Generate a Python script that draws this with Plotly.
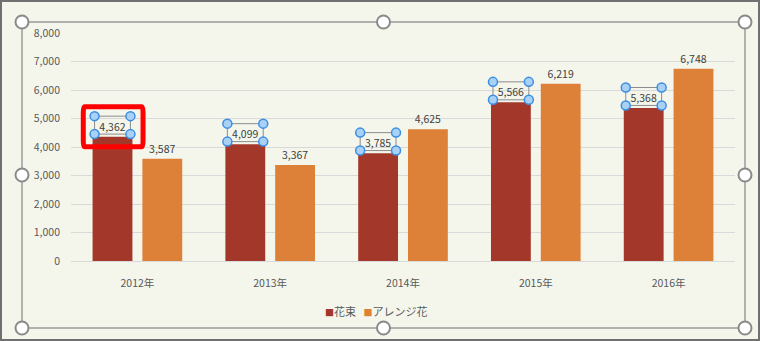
import plotly.graph_objects as go

years = ["2012年", "2013年", "2014年", "2015年", "2016年"]
bouquet = [4362, 4099, 3785, 5566, 5368]
arrange = [3587, 3367, 4625, 6219, 6748]
series_names = ["花束", "アレンジ花"]
series_colors = ["#A3382A", "#DD8038"]
y_ticks = [0, 1000, 2000, 3000, 4000, 5000, 6000, 7000, 8000]

FONT = "Noto Sans CJK JP"
ML, MR, MT, MB = 71, 25, 33, 80
W, H = 760, 341
PW, PH = W - ML - MR, H - MT - MB

def px(x):
    return (x - ML) / PW

def py(y):
    return (H - MB - y) / PH

BARGAP, GROUPGAP = 0.25, 0.2
slot = (1 - BARGAP) / 2
bw = slot * (1 - GROUPGAP)
off0 = -slot / 2

fig = go.Figure()
for name, vals, col in zip(series_names, [bouquet, arrange], series_colors):
    fig.add_bar(x=list(range(len(years))), y=vals, name=name,
                marker=dict(color=col, line=dict(width=0)),
                text=[f"{v:,}" for v in vals], textposition="outside",
                textfont=dict(size=10.5, color="#404040", family=FONT), cliponaxis=False,
                showlegend=False)

shapes = []
# selection boxes around bouquet labels
for i, v in enumerate(bouquet):
    cx = i + off0
    x0, x1 = cx - bw / 2 + 0.015, cx + bw / 2 - 0.015
    y0, y1 = v + 90, v + 720
    shapes.append(dict(type="rect", xref="x", yref="y", x0=x0, x1=x1, y0=y0, y1=y1,
                       line=dict(color="#8C8C8C", width=1), layer="above"))
    for xx in (x0, x1):
        for yy in (y0, y1):
            shapes.append(dict(type="circle", xref="x", yref="y", xsizemode="pixel",
                               ysizemode="pixel", xanchor=xx, yanchor=yy,
                               x0=-4.5, x1=4.5, y0=-4.5, y1=4.5,
                               fillcolor="#A9D1F5", line=dict(color="#3B8EE3", width=1.5),
                               layer="above"))

# red highlight around first label
cx = 0 + off0
rx0, rx1 = cx - bw / 2 - 0.07, cx + bw / 2 + 0.08
ry0, ry1 = bouquet[0] - 350, bouquet[0] + 1050
rx = 6 / PW
ry = 6 / PH * 8000
path = (f"M {rx0+rx},{ry0} L {rx1-rx},{ry0} Q {rx1},{ry0} {rx1},{ry0+ry} "
        f"L {rx1},{ry1-ry} Q {rx1},{ry1} {rx1-rx},{ry1} L {rx0+rx},{ry1} "
        f"Q {rx0},{ry1} {rx0},{ry1-ry} L {rx0},{ry0+ry} Q {rx0},{ry0} {rx0+rx},{ry0} Z")
shapes.append(dict(type="path", xref="x", yref="y", path=path,
                   line=dict(color="#FF0000", width=5), layer="above"))

# chart-area selection frame
fx0, fx1, fy0, fy1 = px(22), px(745), py(328), py(22)
shapes.append(dict(type="rect", xref="paper", yref="paper", x0=fx0, x1=fx1, y0=fy0, y1=fy1,
                   line=dict(color="#9A9A9A", width=1.5), layer="above"))
fxm, fym = (fx0 + fx1) / 2, (fy0 + fy1) / 2
for (hx, hy) in [(fx0, fy0), (fxm, fy0), (fx1, fy0), (fx0, fym), (fx1, fym),
                 (fx0, fy1), (fxm, fy1), (fx1, fy1)]:
    shapes.append(dict(type="circle", xref="paper", yref="paper", xsizemode="pixel",
                       ysizemode="pixel", xanchor=hx, yanchor=hy,
                       x0=-6.5, x1=6.5, y0=-6.5, y1=6.5,
                       fillcolor="#FFFFFF", line=dict(color="#8A8A8A", width=2),
                       layer="above"))
# outer border
shapes.append(dict(type="rect", xref="paper", yref="paper", x0=px(1), x1=px(759),
                   y0=py(340), y1=py(1), line=dict(color="#707070", width=2), layer="above"))

legend_text = "   ".join(
    f"<span style='color:{c}; font-size:9px'>■</span>{n}"
    for n, c in zip(series_names, series_colors))

fig.update_layout(
    width=W, height=H,
    margin=dict(l=ML, r=MR, t=MT, b=MB),
    paper_bgcolor="#F4F6EC", plot_bgcolor="rgba(0,0,0,0)",
    barmode="group", bargap=BARGAP, bargroupgap=GROUPGAP,
    font=dict(family=FONT, color="#595959", size=11),
    showlegend=False,
    shapes=shapes,
    annotations=[dict(xref="paper", yref="paper", x=px(376), y=py(311),
                      xanchor="center", yanchor="middle", showarrow=False,
                      text=legend_text, font=dict(size=11, color="#595959", family=FONT))],
)
fig.update_xaxes(tickmode="array", tickvals=list(range(len(years))), ticktext=years,
                 range=[-0.5, len(years) - 0.5], showgrid=False, showline=True,
                 linecolor="#D9D9D9", linewidth=1, ticks="", ticklabelstandoff=12,
                 tickfont=dict(size=10.5, color="#595959"))
fig.update_yaxes(range=[0, 8000], tickvals=y_ticks, tickformat=",", showgrid=True,
                 gridcolor="#D9D9D9", gridwidth=1, zeroline=False, showline=False,
                 ticks="", ticklabelstandoff=10, tickfont=dict(size=10.5, color="#595959"))

fig.write_html("out.html")
